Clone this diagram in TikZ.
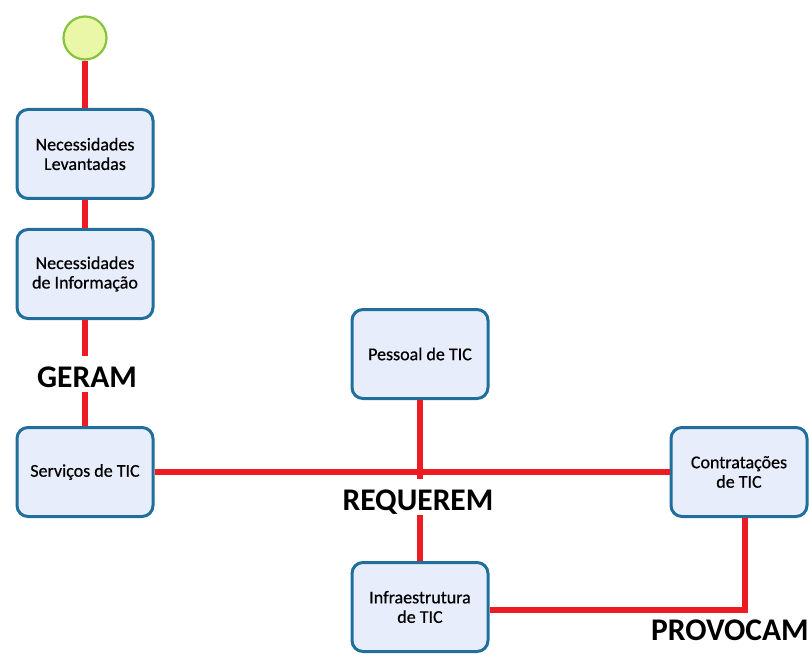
\documentclass[tikz,border=0pt]{standalone}
\usepackage{fontspec}
\setmainfont{Carlito}
\newfontfamily\boxfont{Carlito}[FakeBold=0.6]
\definecolor{boxblue}{HTML}{1F6E9C}
\definecolor{boxfill}{HTML}{E8EDFB}
\definecolor{linkred}{HTML}{ED1C24}
\definecolor{startfill}{HTML}{E9F7A6}
\definecolor{startline}{HTML}{86C440}
\begin{document}
\begin{tikzpicture}[x=1pt,y=-1pt,
  box/.style={draw=boxblue, line width=3pt, fill=boxfill, rounded corners=11pt,
    minimum width=136pt, minimum height=89pt, align=center, inner sep=2pt,
    font=\boxfont\fontsize{18}{19.5}\selectfont},
  link/.style={draw=linkred, line width=6pt},
  verb/.style={fill=white, inner xsep=3pt, inner ysep=5pt, text height=26pt, text depth=0pt,
    font=\fontsize{31.5}{33}\selectfont\bfseries},
  startnode/.style={circle, draw=startline, line width=2.2pt, fill=startfill, minimum size=43pt, inner sep=0pt}]
\useasboundingbox (0,0) rectangle (812,666);
\node[startnode] (start) at (85,38) {};
\node[box] (nl) at (85,154) {Necessidades\\Levantadas};
\node[box] (ni) at (85,274) {Necessidades\\de Informação};
\node[box] (serv) at (85,472) {Serviços de TIC};
\node[box] (pess) at (420,354) {Pessoal de TIC};
\node[box] (contr) at (739,472) {Contratações\\de TIC};
\node[box] (infra) at (420,607) {Infraestrutura\\de TIC};
\coordinate (corner) at (745,610);
\draw[link] (start) -- (nl);
\draw[link] (nl) -- (ni);
\draw[link] (ni) -- (serv);
\draw[link] (serv.east) -- (contr.west);
\draw[link] (pess.south) -- (infra.north);
\draw[link] (infra.east |- corner) -- (corner) -- (corner |- contr.south);
\node[verb] (geram) at (87,374) {GERAM};
\node[verb] (req) at (418,497) {REQUEREM};
\node[verb, fill=none] (prov) at (730,627) {PROVOCAM};
\end{tikzpicture}
\end{document}
